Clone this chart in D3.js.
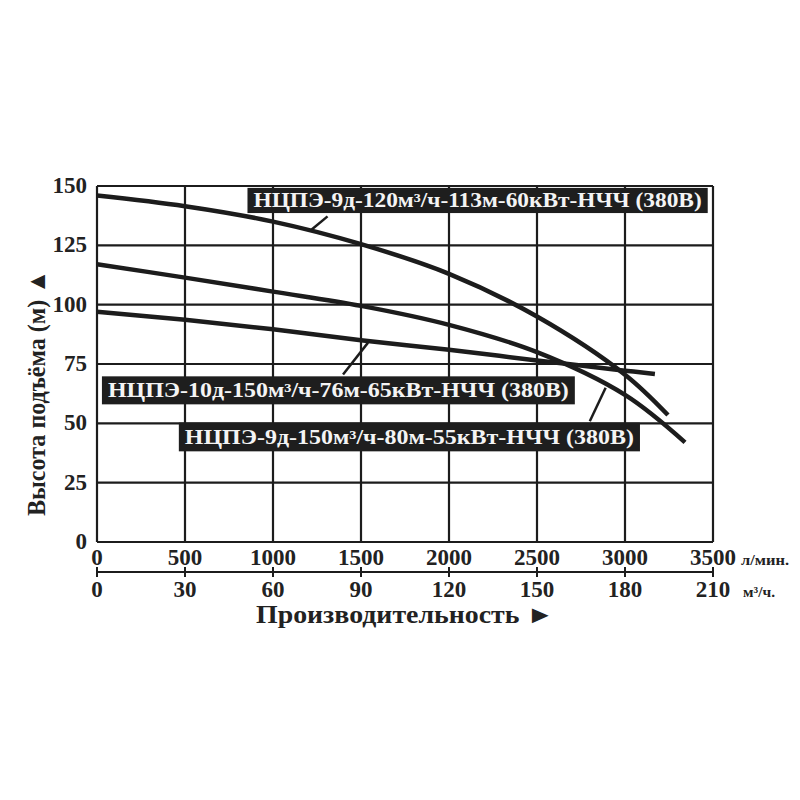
<!DOCTYPE html>
<html>
<head>
<meta charset="utf-8">
<script src="https://cdn.jsdelivr.net/npm/d3@7"></script>
<style>
  body { margin: 0; background: #fff; }
  text { font-family: "Liberation Serif", "Times New Roman", serif; font-weight: bold; fill: #222; }
</style>
</head>
<body>
<div id="chart"></div>
<script>
// flow, л/мин
const flowTicks = [0, 500, 1000, 1500, 2000, 2500, 3000, 3500];
const flowM3Ticks = [0, 30, 60, 90, 120, 150, 180, 210];
const headTicks = [0, 25, 50, 75, 100, 125, 150];

// НЦПЭ-9д-120м³/ч-113м-60кВт-НЧЧ
const pumpAFlow = [0, 500, 1000, 1500, 2000, 2500, 3000, 3244];
const pumpAHead = [146, 141.5, 135, 125.5, 113, 95, 70.5, 53.5];
// НЦПЭ-9д-150м³/ч-80м-55кВт-НЧЧ
const pumpBFlow = [0, 500, 1000, 1500, 2000, 2500, 3000, 3341];
const pumpBHead = [117, 111.4, 105.5, 99.5, 91.5, 80, 62, 42];
// НЦПЭ-10д-150м³/ч-76м-65кВт-НЧЧ
const pumpCFlow = [0, 500, 1000, 1500, 2000, 2500, 3000, 3170];
const pumpCHead = [97, 93.6, 89.6, 85, 81, 76.5, 72.2, 70.8];

const labelA = 'НЦПЭ-9д-120м³/ч-113м-60кВт-НЧЧ (380В)';
const labelB = 'НЦПЭ-9д-150м³/ч-80м-55кВт-НЧЧ (380В)';
const labelC = 'НЦПЭ-10д-150м³/ч-76м-65кВт-НЧЧ (380В)';

const width = 800, height = 800;
const margin = { top: 186, right: 87, bottom: 258, left: 97 };

const svg = d3.select('#chart').append('svg')
  .attr('width', width).attr('height', height);

const x = d3.scaleLinear().domain([0, 3500]).range([margin.left, width - margin.right]);
const x2 = d3.scaleLinear().domain([0, 210]).range([margin.left, width - margin.right]);
const y = d3.scaleLinear().domain([0, 150]).range([height - margin.bottom, margin.top]);

const ink = '#1c1c1c';

// grid
const grid = svg.append('g');
grid.selectAll('.gx').data(flowTicks).enter().append('line')
  .attr('x1', d => x(d)).attr('x2', d => x(d))
  .attr('y1', y(0)).attr('y2', y(150))
  .attr('stroke', ink).attr('stroke-width', 2.2);
grid.selectAll('.gy').data(headTicks).enter().append('line')
  .attr('x1', x(0)).attr('x2', x(3500))
  .attr('y1', d => y(d)).attr('y2', d => y(d))
  .attr('stroke', ink).attr('stroke-width', 2.2);

// y tick labels
svg.selectAll('.ylab').data(headTicks).enter().append('text')
  .attr('x', margin.left - 10)
  .attr('y', d => y(d) + 7)
  .attr('text-anchor', 'end')
  .style('font-size', '23px')
  .text(d => d);

// x tick labels (л/мин)
svg.selectAll('.xlab').data(flowTicks).enter().append('text')
  .attr('x', d => x(d))
  .attr('y', 565)
  .attr('text-anchor', 'middle')
  .style('font-size', '23px')
  .text(d => d);
svg.append('text').attr('x', 741).attr('y', 565)
  .attr('textLength', 48).attr('lengthAdjust', 'spacingAndGlyphs')
  .style('font-size', '14px').text('л/мин.');

// second axis (м³/ч)
const axis2Y = 572;
svg.append('line')
  .attr('x1', x2(0)).attr('x2', x2(210))
  .attr('y1', axis2Y).attr('y2', axis2Y)
  .attr('stroke', ink).attr('stroke-width', 2);
svg.selectAll('.t2').data(flowM3Ticks).enter().append('line')
  .attr('x1', d => x2(d)).attr('x2', d => x2(d))
  .attr('y1', axis2Y - 5).attr('y2', axis2Y + 5)
  .attr('stroke', ink).attr('stroke-width', 2);
svg.selectAll('.x2lab').data(flowM3Ticks).enter().append('text')
  .attr('x', d => x2(d))
  .attr('y', 597)
  .attr('text-anchor', 'middle')
  .style('font-size', '23px')
  .text(d => d);
svg.append('text').attr('x', 743).attr('y', 597)
  .attr('textLength', 32).attr('lengthAdjust', 'spacingAndGlyphs')
  .style('font-size', '14px').text('м³/ч.');

// axis titles
svg.append('text')
  .attr('x', 405).attr('y', 623)
  .attr('text-anchor', 'middle')
  .attr('textLength', 298).attr('lengthAdjust', 'spacingAndGlyphs')
  .style('font-size', '25px')
  .text('Производительность ►');
svg.append('text')
  .attr('transform', 'translate(45,393) rotate(-90)')
  .attr('text-anchor', 'middle')
  .attr('textLength', 246).attr('lengthAdjust', 'spacingAndGlyphs')
  .style('font-size', '25px')
  .text('Высота подъёма (м) ▲');

// curves
const line = d3.line()
  .x(d => x(d[0]))
  .y(d => y(d[1]))
  .curve(d3.curveCatmullRom);

const curves = [
  d3.zip(pumpAFlow, pumpAHead),
  d3.zip(pumpBFlow, pumpBHead),
  d3.zip(pumpCFlow, pumpCHead)
];
svg.selectAll('.curve').data(curves).enter().append('path')
  .attr('fill', 'none')
  .attr('stroke', ink)
  .attr('stroke-width', 4.5)
  .attr('d', line);

// labels: box position in data units, leader from box to curve
const labels = [
  { text: labelA, x0: 855, h0: 149.2, x1: 3470, h1: 138.6, lead: [[1310, 137.2], [1220, 131.7]] },
  { text: labelC, x0: 28, h0: 69.8, x1: 2715, h1: 58, lead: [[1398, 70.6], [1540, 84]] },
  { text: labelB, x0: 465, h0: 50.3, x1: 3085, h1: 38.2, lead: [[2800, 50.9], [2890, 65]] }
];

labels.forEach(l => {
  const bx = x(l.x0), by = y(l.h0);
  const bw = x(l.x1) - bx, bh = y(l.h1) - by;
  svg.append('line')
    .attr('x1', x(l.lead[0][0])).attr('y1', y(l.lead[0][1]))
    .attr('x2', x(l.lead[1][0])).attr('y2', y(l.lead[1][1]))
    .attr('stroke', ink).attr('stroke-width', 2.5);
  svg.append('rect')
    .attr('x', bx).attr('y', by)
    .attr('width', bw).attr('height', bh)
    .attr('fill', '#1e1e1e');
  svg.append('text')
    .attr('x', bx + 6).attr('y', by + bh / 2 + 7)
    .attr('textLength', bw - 12)
    .attr('lengthAdjust', 'spacingAndGlyphs')
    .style('font-size', '20px')
    .style('fill', '#f4f4f4')
    .text(l.text);
});
</script>
</body>
</html>
